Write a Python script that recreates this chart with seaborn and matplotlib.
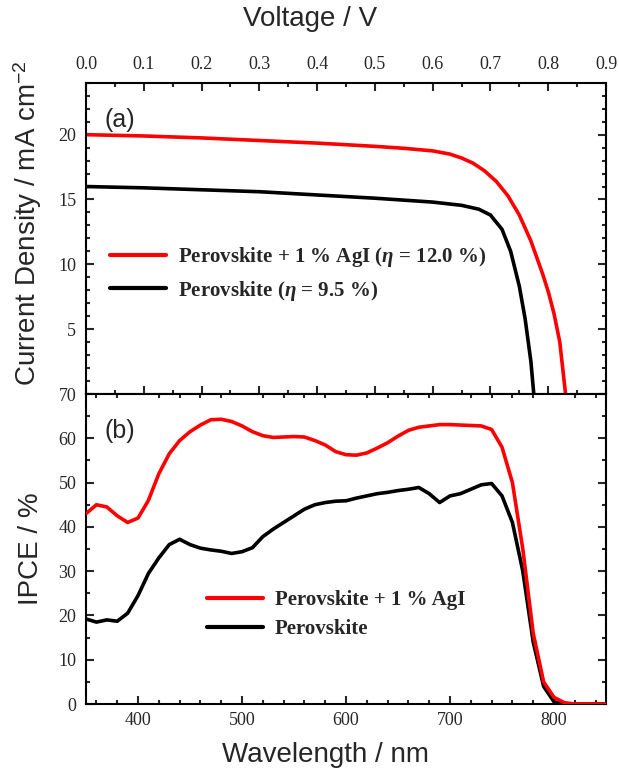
import matplotlib
import matplotlib.pyplot as plt
import numpy as np
import seaborn as sns
from matplotlib.ticker import MultipleLocator, FormatStrFormatter

matplotlib.use("Agg")

# J-V curves (top panel)
voltage_agi = [0.0, 0.1, 0.2, 0.3, 0.4, 0.5, 0.55, 0.6, 0.63, 0.65, 0.67, 0.69, 0.71, 0.73,
               0.75, 0.77, 0.79, 0.80, 0.81, 0.82, 0.83]
current_agi = [20.0, 19.9, 19.75, 19.55, 19.35, 19.1, 18.95, 18.75, 18.5, 18.2, 17.8, 17.2,
               16.4, 15.3, 13.8, 11.8, 9.3, 7.9, 6.2, 4.0, 0.0]
voltage_ref = [0.0, 0.1, 0.2, 0.3, 0.4, 0.5, 0.6, 0.65, 0.68, 0.70, 0.72, 0.735, 0.75,
               0.76, 0.77, 0.775]
current_ref = [16.0, 15.9, 15.75, 15.6, 15.35, 15.1, 14.8, 14.55, 14.25, 13.8, 12.7, 11.0,
               8.3, 5.8, 2.5, 0.0]

# IPCE spectra (bottom panel)
wavelength = [350, 360, 370, 380, 390, 400, 410, 420, 430, 440, 450, 460, 470, 480, 490,
              500, 510, 520, 530, 540, 550, 560, 570, 580, 590, 600, 610, 620, 630, 640,
              650, 660, 670, 680, 690, 700, 710, 720, 730, 740, 750, 760, 770, 780, 790,
              800, 810, 820, 830, 840, 850]
ipce_agi = [43.0, 45.0, 44.5, 42.5, 41.0, 42.0, 46.0, 52.0, 56.5, 59.5, 61.5, 63.0, 64.2,
            64.3, 63.8, 62.8, 61.5, 60.6, 60.2, 60.3, 60.4, 60.3, 59.5, 58.5, 57.0, 56.3,
            56.2, 56.7, 57.8, 59.0, 60.5, 61.8, 62.5, 62.8, 63.1, 63.1, 63.0, 62.9, 62.8,
            62.0, 58.0, 50.0, 35.0, 16.0, 5.0, 1.5, 0.3, 0.0, 0.0, 0.0, 0.0]
ipce_ref = [19.2, 18.5, 19.0, 18.7, 20.5, 24.5, 29.5, 33.0, 36.0, 37.2, 36.0, 35.2, 34.8,
            34.5, 34.0, 34.4, 35.3, 37.8, 39.5, 41.0, 42.5, 44.0, 45.0, 45.5, 45.8, 45.9,
            46.5, 47.0, 47.5, 47.8, 48.2, 48.5, 48.9, 47.5, 45.5, 47.0, 47.5, 48.5, 49.5,
            49.8, 47.0, 41.0, 30.0, 14.0, 4.0, 0.5, 0.0, 0.0, 0.0, 0.0, 0.0]

sns.set_style("ticks")
plt.rcParams.update({
    "font.family": ["Liberation Serif", "DejaVu Serif"],
    "mathtext.fontset": "custom",
    "mathtext.rm": "Liberation Sans",
    "mathtext.it": "Liberation Serif:italic:bold",
    "axes.linewidth": 1.5,
})

RED = "#ff0000"
BLACK = "#000000"
LABEL_FONT = {"family": ["Liberation Sans", "DejaVu Sans"], "size": 20}
LEGEND_FONT = {"family": ["Liberation Serif", "DejaVu Serif"], "weight": "bold", "size": 15}


def style_axis(ax):
    ax.tick_params(which="both", direction="in", width=1.5, labelsize=13, pad=7,
                   top=True, right=True, bottom=True, left=True)
    ax.tick_params(which="major", length=6)
    ax.tick_params(which="minor", length=3)
    for s in ax.spines.values():
        s.set_linewidth(1.5)
        s.set_color("black")


fig = plt.figure(figsize=(6.19, 7.74), dpi=100)
ax_top = fig.add_axes([0.139, 0.491, 0.840, 0.402])
ax_bot = fig.add_axes([0.139, 0.0904, 0.840, 0.4005])

# --- (a) J-V ---
sns.lineplot(x=voltage_agi, y=current_agi, ax=ax_top, color=RED, lw=2.6,
             label="Perovskite + 1 % AgI ($\\eta$ = 12.0 %)", sort=False, estimator=None)
sns.lineplot(x=voltage_ref, y=current_ref, ax=ax_top, color=BLACK, lw=2.6,
             label="Perovskite ($\\eta$ = 9.5 %)", sort=False, estimator=None)
ax_top.set_xlim(0, 0.9)
ax_top.set_ylim(0, 24)
ax_top.xaxis.set_major_locator(MultipleLocator(0.1))
ax_top.xaxis.set_minor_locator(MultipleLocator(0.05))
ax_top.yaxis.set_minor_locator(MultipleLocator(1))
ax_top.set_yticks([5, 10, 15, 20])
style_axis(ax_top)
ax_top.tick_params(axis="x", labeltop=True, labelbottom=False)
ax_top.xaxis.set_major_formatter(FormatStrFormatter("%.1f"))
ax_top.xaxis.set_label_position("top")
ax_top.set_xlabel("Voltage / V", fontdict=LABEL_FONT)
ax_top.xaxis.label.set_va("center")
ax_top.xaxis.set_label_coords(0.43, 1.205)
ax_top.set_ylabel("Current Density / mA cm$^{-2}$", fontdict=LABEL_FONT)
ax_top.yaxis.set_label_coords(-0.08, 0.55)
ax_top.text(0.035, 0.88, "(a)", transform=ax_top.transAxes, fontsize=18,
            family=["Liberation Sans", "DejaVu Sans"], va="center")
ax_top.legend(loc="upper left", bbox_to_anchor=(0.046, 0.478), frameon=False,
              prop=LEGEND_FONT, handlelength=2.7, handletextpad=0.55, labelspacing=0.45,
              borderpad=0, borderaxespad=0)
for line in ax_top.get_legend().get_lines():
    line.set_linewidth(3.0)

# --- (b) IPCE ---
sns.lineplot(x=wavelength, y=ipce_agi, ax=ax_bot, color=RED, lw=2.6,
             label="Perovskite + 1 % AgI", sort=False, estimator=None)
sns.lineplot(x=wavelength, y=ipce_ref, ax=ax_bot, color=BLACK, lw=2.6,
             label="Perovskite", sort=False, estimator=None)
# red drawn on top as in the original
ax_bot.lines[0].set_zorder(3)
ax_bot.set_xlim(350, 850)
ax_bot.set_ylim(0, 70)
ax_bot.xaxis.set_major_locator(MultipleLocator(100))
ax_bot.xaxis.set_minor_locator(MultipleLocator(20))
ax_bot.yaxis.set_major_locator(MultipleLocator(10))
ax_bot.yaxis.set_minor_locator(MultipleLocator(5))
style_axis(ax_bot)
ax_bot.tick_params(axis="x", top=False, pad=6)
ax_bot.set_xlabel("Wavelength / nm", fontdict=LABEL_FONT)
ax_bot.xaxis.label.set_va("center")
ax_bot.xaxis.set_label_coords(0.46, -0.165)
ax_bot.set_ylabel("IPCE / %", fontdict=LABEL_FONT)
ax_bot.yaxis.set_label_coords(-0.08, 0.5)
ax_bot.text(0.035, 0.88, "(b)", transform=ax_bot.transAxes, fontsize=18,
            family=["Liberation Sans", "DejaVu Sans"], va="center")
ax_bot.legend(loc="upper left", bbox_to_anchor=(0.233, 0.368), frameon=False,
              prop=LEGEND_FONT, handlelength=2.7, handletextpad=0.55, labelspacing=0.45,
              borderpad=0, borderaxespad=0)
for line in ax_bot.get_legend().get_lines():
    line.set_linewidth(3.0)

fig.savefig("out.png", dpi=100)
plt.close(fig)
